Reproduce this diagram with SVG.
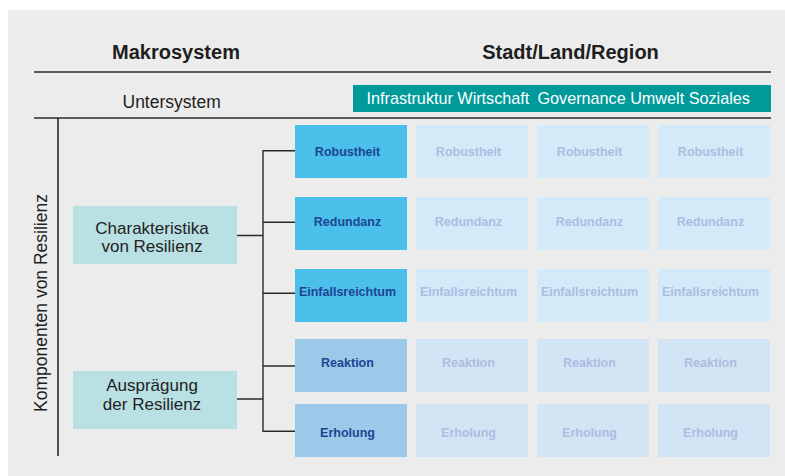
<svg xmlns="http://www.w3.org/2000/svg" width="785" height="476" viewBox="0 0 785 476">
  <style>
    text { font-family: "Liberation Sans", Arial, sans-serif; }
    .head { font-size: 20px; font-weight: bold; fill: #1e1e1e; text-anchor: middle; }
    .sub { font-size: 17.5px; fill: #1e1e1e; }
    .dim { font-size: 16.2px; fill: #ffffff; }
    .cat { font-size: 17px; fill: #222222; text-anchor: middle; }
    .rule { stroke: #2a2a2a; stroke-width: 1.6; fill: none; }
    .wire { stroke: #2a2a2a; stroke-width: 1.4; fill: none; }
    .cat-box { fill: #b9e0e3; }
    .lead-a { fill: #4bc0ea; }
    .lead-b { fill: #9cc8e9; }
    .lead-t { font-size: 12.5px; font-weight: bold; fill: #1d4594; text-anchor: middle; }
    .cell-a { fill: #d5eaf8; }
    .cell-b { fill: #d3e4f4; }
    .cell-t { font-size: 12.5px; font-weight: bold; fill: #abbde2; text-anchor: middle; }
  </style>

  <!-- panel -->
  <rect x="8" y="10" width="777" height="466" fill="#ececec"/>

  <!-- header -->
  <g id="header">
    <text class="head" x="176" y="58.5">Makrosystem</text>
    <text class="head" x="570.5" y="58.5">Stadt/Land/Region</text>
    <line class="rule" x1="34" y1="72" x2="771" y2="72"/>
    <text class="sub" x="122.5" y="107.5">Untersystem</text>
    <line class="rule" x1="34" y1="118" x2="771" y2="118"/>
    <line class="rule" x1="58" y1="118" x2="58" y2="456"/>
    <text class="sub" transform="translate(46.5 303) rotate(-90)" text-anchor="middle">Komponenten von Resilienz</text>
  </g>

  <g id="subsystems">
    <rect x="353" y="85" width="418" height="27" fill="#009a9a"/>
    <text class="dim" x="366.5" y="103.5">Infrastruktur Wirtschaft</text>
    <text class="dim" x="537.5" y="103.5">Governance Umwelt Soziales</text>
  </g>

  <!-- connectors -->
  <g id="connectors">
    <path class="wire" d="M237 235.5 H263 M237 399 H263"/>
    <path class="wire" d="M295 150.7 H263 V431.3 H295"/>
    <path class="wire" d="M263 222.3 H295 M263 293.3 H295 M263 366 H295"/>
  </g>

  <!-- category nodes -->
  <g id="charakteristika">
    <rect class="cat-box" x="73" y="206" width="164" height="58"/>
    <text class="cat" x="152" y="233.8">Charakteristika</text>
    <text class="cat" x="152" y="252">von Resilienz</text>
  </g>
  <g id="auspraegung">
    <rect class="cat-box" x="73" y="371" width="164" height="58"/>
    <text class="cat" x="152" y="391.3">Ausprägung</text>
    <text class="cat" x="152" y="409.5">der Resilienz</text>
  </g>

  <!-- component rows -->
  <g id="robustheit">
    <rect class="lead-a" x="295" y="125" width="112" height="53"/>
    <text class="lead-t" x="347.5" y="156">Robustheit</text>
    <rect class="cell-a" x="416" y="125" width="112" height="53"/>
    <text class="cell-t" x="468.5" y="156">Robustheit</text>
    <rect class="cell-a" x="537" y="125" width="112" height="53"/>
    <text class="cell-t" x="589.5" y="156">Robustheit</text>
    <rect class="cell-a" x="658" y="125" width="112" height="53"/>
    <text class="cell-t" x="710.5" y="156">Robustheit</text>
  </g>
  <g id="redundanz">
    <rect class="lead-a" x="295" y="197" width="112" height="53"/>
    <text class="lead-t" x="347.5" y="226">Redundanz</text>
    <rect class="cell-a" x="416" y="197" width="112" height="53"/>
    <text class="cell-t" x="468.5" y="226">Redundanz</text>
    <rect class="cell-a" x="537" y="197" width="112" height="53"/>
    <text class="cell-t" x="589.5" y="226">Redundanz</text>
    <rect class="cell-a" x="658" y="197" width="112" height="53"/>
    <text class="cell-t" x="710.5" y="226">Redundanz</text>
  </g>
  <g id="einfallsreichtum">
    <rect class="lead-a" x="295" y="269" width="112" height="53"/>
    <text class="lead-t" x="347.5" y="296">Einfallsreichtum</text>
    <rect class="cell-a" x="416" y="269" width="112" height="53"/>
    <text class="cell-t" x="468.5" y="296">Einfallsreichtum</text>
    <rect class="cell-a" x="537" y="269" width="112" height="53"/>
    <text class="cell-t" x="589.5" y="296">Einfallsreichtum</text>
    <rect class="cell-a" x="658" y="269" width="112" height="53"/>
    <text class="cell-t" x="710.5" y="296">Einfallsreichtum</text>
  </g>
  <g id="reaktion">
    <rect class="lead-b" x="295" y="339" width="112" height="53"/>
    <text class="lead-t" x="347.5" y="366.5">Reaktion</text>
    <rect class="cell-b" x="416" y="339" width="112" height="53"/>
    <text class="cell-t" x="468.5" y="366.5">Reaktion</text>
    <rect class="cell-b" x="537" y="339" width="112" height="53"/>
    <text class="cell-t" x="589.5" y="366.5">Reaktion</text>
    <rect class="cell-b" x="658" y="339" width="112" height="53"/>
    <text class="cell-t" x="710.5" y="366.5">Reaktion</text>
  </g>
  <g id="erholung">
    <rect class="lead-b" x="295" y="404" width="112" height="53"/>
    <text class="lead-t" x="347.5" y="437">Erholung</text>
    <rect class="cell-b" x="416" y="404" width="112" height="53"/>
    <text class="cell-t" x="468.5" y="437">Erholung</text>
    <rect class="cell-b" x="537" y="404" width="112" height="53"/>
    <text class="cell-t" x="589.5" y="437">Erholung</text>
    <rect class="cell-b" x="658" y="404" width="112" height="53"/>
    <text class="cell-t" x="710.5" y="437">Erholung</text>
  </g>
</svg>
